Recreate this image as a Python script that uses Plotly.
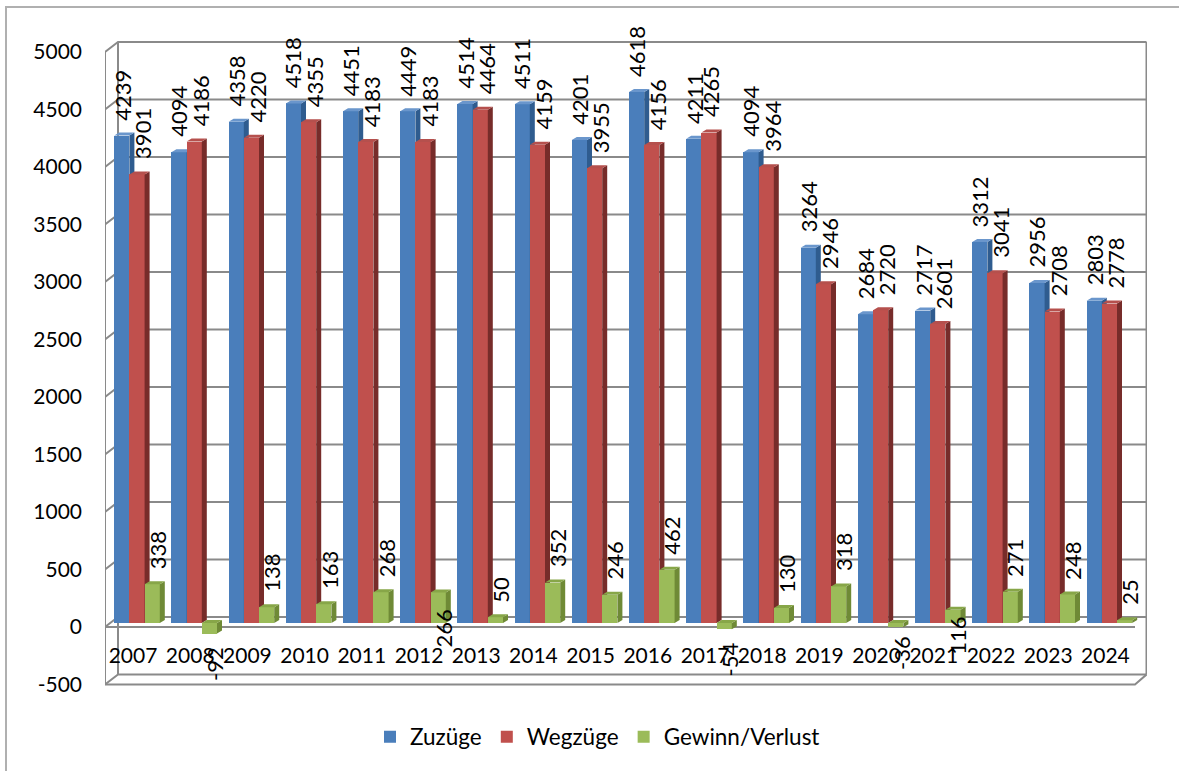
import plotly.graph_objects as go

years = [2007, 2008, 2009, 2010, 2011, 2012, 2013, 2014, 2015, 2016, 2017, 2018, 2019, 2020, 2021, 2022, 2023, 2024]
zuzuege = [4239, 4094, 4358, 4518, 4451, 4449, 4514, 4511, 4201, 4618, 4211, 4094, 3264, 2684, 2717, 3312, 2956, 2803]
wegzuege = [3901, 4186, 4220, 4355, 4183, 4183, 4464, 4159, 3955, 4156, 4265, 3964, 2946, 2720, 2601, 3041, 2708, 2778]
gewinn = [338, -92, 138, 163, 268, 266, 50, 352, 246, 462, -54, 130, 318, -36, 116, 271, 248, 25]
y_ticks = [-500, 0, 500, 1000, 1500, 2000, 2500, 3000, 3500, 4000, 4500, 5000]

FONT = "Lato"
FS_AXIS = 21
FS_LABEL = 22
FS_LEGEND = 22.5
W, H = 1179, 771
L, R, T, B = 105, 32, 30, 71
PW, PH = W - L - R, H - T - B
SLOT = 57.2            # px per category
C0 = 137               # px of first cluster centre
SY = 0.115             # px per unit, frame
SB = 0.115             # px per unit, bars
Z_FRONT, Z_BAR = 627, 623
px2x = lambda p: (p - C0) / SLOT
xrange_ = [px2x(L), px2x(W - R)]
yr_front = [(Z_FRONT - (T + PH)) / SY, (Z_FRONT - T) / SY]
yr_bar = [(Z_BAR - (T + PH)) / SB, (Z_BAR - T) / SB]
BW = 15.2 / SLOT
DX, DY = 5 / SLOT, 3 / SB
BACK = 10 / SY

fig = go.Figure()

# frame and gridlines
GRID = "#8a8a8a"
xl, xb, xf, xr = px2x(105), px2x(118), px2x(1135), px2x(1146.5)
gx, gy = [], []
for v in y_ticks:
    gx += [xl, xb, xr, None]
    gy += [v, v + BACK, v + BACK, None]
top, bot = y_ticks[-1], y_ticks[0]
gx += [xl, xl, None, xb, xb, None, xr, xr, None, xl, xf, xr, None, xl, xf, None]
gy += [top, bot, None, top + BACK, bot + BACK, None, top + BACK, bot + BACK, None, bot, bot, bot + BACK, None, 0, 0, None]
fig.add_trace(go.Scatter(x=gx, y=gy, mode="lines", line=dict(color=GRID, width=2),
                         hoverinfo="skip", showlegend=False, yaxis="y", cliponaxis=False))

series = [
    ("Zuzüge", zuzuege, -BW, "#4a7ebb", "#2f5c8f", "#6a96cc", "y2"),
    ("Wegzüge", wegzuege, 0, "#c0504d", "#772c2a", "#b5504d", "y3"),
    ("Gewinn/Verlust", gewinn, BW, "#9bbb59", "#6f8a36", "#87a648", "y4"),
]
for name, vals, off, front, side, topc, ax in series:
    xs = [i + off for i in range(len(vals))]
    fig.add_trace(go.Bar(x=xs, y=vals, width=BW, name=name, marker=dict(color=front, line=dict(width=0)),
                         yaxis=ax, hovertemplate=name + ": %{y}<extra></extra>"))
    sx, sy, tx, ty = [], [], [], []
    for x, v in zip(xs, vals):
        x0, x1 = x - BW / 2, x + BW / 2
        vt = max(v, 0)
        vb = min(v, 0)
        sx += [x1, x1 + DX, x1 + DX, x1, x1, None]
        sy += [vb, vb + DY, vt + DY, vt, vb, None]
        tx += [x0, x0 + DX, x1 + DX, x1, x0, None]
        ty += [vt, vt + DY, vt + DY, vt, vt, None]
    fig.add_trace(go.Scatter(x=sx, y=sy, mode="lines", fill="toself", fillcolor=side, line=dict(width=0),
                             hoverinfo="skip", showlegend=False, yaxis=ax))
    fig.add_trace(go.Scatter(x=tx, y=ty, mode="lines", fill="toself", fillcolor=topc, line=dict(width=0),
                             hoverinfo="skip", showlegend=False, yaxis=ax))

# data labels
nudges = {("G", 2012): (0, -70), ("G", 2021): (0, -60), ("W", 2017): (-5, 0), ("G", 2020): (0, 4)}
ann = []
for key, vals, off, xsh in (("Z", zuzuege, -BW, 0), ("W", wegzuege, 0, 6), ("G", gewinn, BW, 5)):
    for i, v in enumerate(vals):
        ns = nudges.get((key, years[i]), (0, 0))
        neg = v < 0
        ann.append(dict(x=i + off, y=v, xref="x", yref="y2", text=str(v), textangle=-90, showarrow=False,
                        xanchor="center", yanchor="top" if neg else "bottom",
                        xshift=xsh + ns[0], yshift=(-13 if neg else 15) + ns[1],
                        font=dict(family=FONT, size=FS_LABEL, color="#000"), borderpad=0, borderwidth=0))

layout_axes = dict(
    yaxis2=dict(visible=False, overlaying="y", range=yr_bar),
    yaxis3=dict(visible=False, overlaying="y", range=yr_bar),
    yaxis4=dict(visible=False, overlaying="y", range=yr_bar),
)
fig.update_layout(
    width=W, height=H, margin=dict(l=L, r=R, t=T, b=B, pad=0), autosize=False,
    paper_bgcolor="white", plot_bgcolor="white", barmode="overlay", bargap=0,
    font=dict(family=FONT, size=FS_AXIS, color="#000"),
    xaxis=dict(range=xrange_, anchor="free", position=(T + PH - 641) / PH, tickmode="array",
               tickvals=[i - 0.07 for i in range(len(years))], ticktext=[str(y) for y in years],
               showgrid=False, zeroline=False, showline=False, ticks="", tickangle=0,
               tickfont=dict(family=FONT, size=FS_AXIS, color="#000")),
    yaxis=dict(range=yr_front, tickmode="array", tickvals=y_ticks, ticktext=[str(v) for v in y_ticks],
               showgrid=False, zeroline=False, showline=False, ticks="", ticklabelstandoff=22,
               tickfont=dict(family=FONT, size=FS_AXIS, color="#000")),
    legend=dict(orientation="h", x=(370 - L) / PW, y=(T + PH - 737) / PH, xanchor="left", yanchor="middle",
                bgcolor="rgba(0,0,0,0)", font=dict(family=FONT, size=FS_LEGEND, color="#000")),
    annotations=ann,
    shapes=[dict(type="path", xref="paper", yref="paper", layer="below",
                 path="M %f,%f L %f,%f L %f,%f" % ((6 - L) / PW, (T + PH - 771) / PH, (6 - L) / PW, (T + PH - 7) / PH,
                                                   (1179 - L) / PW, (T + PH - 7) / PH),
                 line=dict(color="#b0b0b0", width=2))],
    **layout_axes,
)
fig.write_html("out.html", config=dict(displayModeBar=False),
               post_script="document.body.style.margin='0';document.body.style.overflow='hidden';")
